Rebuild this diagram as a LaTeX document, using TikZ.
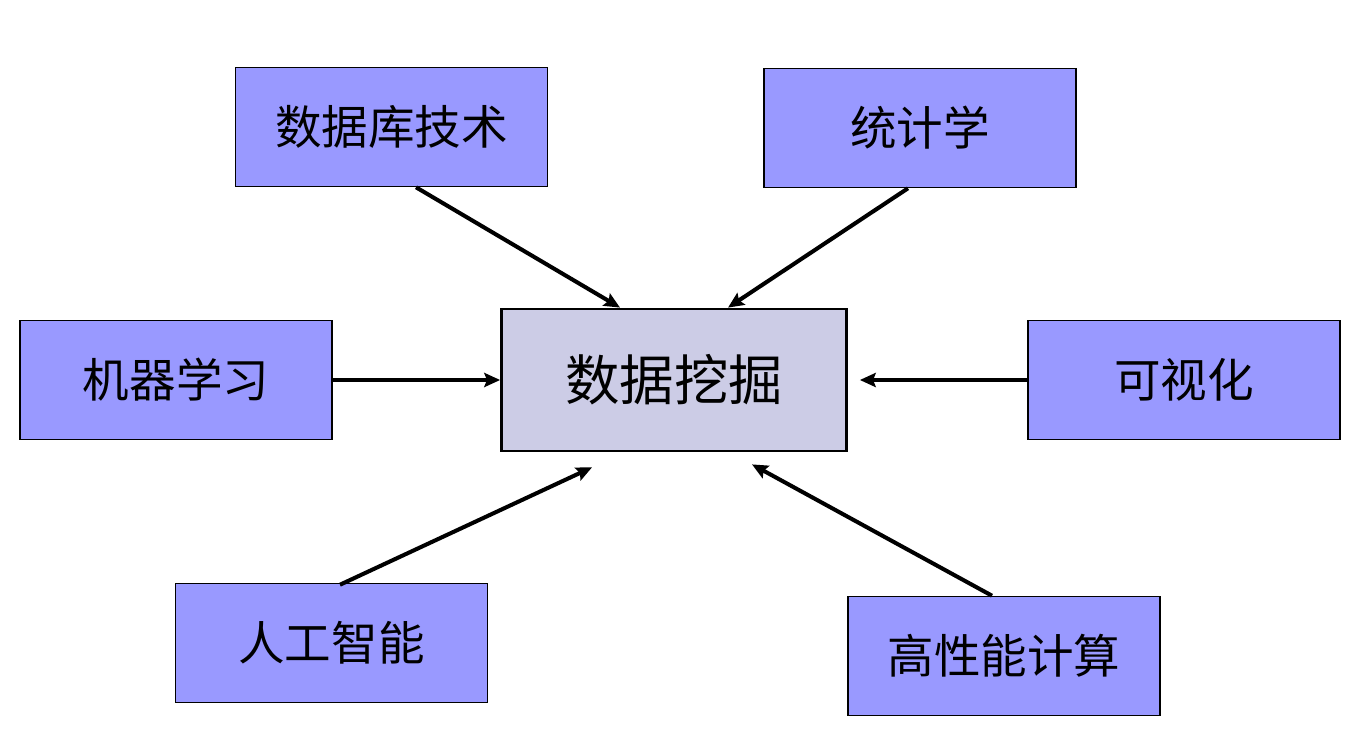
\documentclass[tikz,border=0pt]{standalone}
\usepackage{fontspec}
\usepackage{tikz}
\usetikzlibrary{arrows.meta,calc}
\newfontfamily\cjk{Noto Sans CJK SC}
\definecolor{topicblue}{RGB}{153,153,255}
\definecolor{coregray}{RGB}{204,204,230}

\begin{document}
\begin{tikzpicture}[x=0.02cm, y=-0.02cm]
			\tikzset{field/.style={draw, line width=0.9pt, fill=topicblue, inner sep=0pt, minimum width=6.24cm, minimum height=2.38cm, font=\cjk\fontsize{26.5}{30}\selectfont},
				core/.style={draw, line width=1.6pt, fill=coregray, inner sep=0pt, minimum width=6.9cm, minimum height=2.84cm, font=\cjk\fontsize{31}{34}\selectfont},
				feed/.style={line width=2.3pt, -{Stealth[length=9pt, width=8pt, inset=1.5pt]}}}
			\useasboundingbox (0,0) rectangle (1358,743);
			
			\node[core] (dm) at (674,380) {数据挖掘};
			\node[field] (db) at (391.5,127) {数据库技术};
			\node[field] (stat) at (920,128) {统计学};
			\node[field] (ml) at (176,380) {机器学习};
			\node[field] (vis) at (1184,380) {可视化};
			\node[field] (ai) at (331.5,643) {人工智能};
			\node[field] (hpc) at (1004,656) {高性能计算};
			
			\coordinate (in_vis) at ($(dm.east)+(12,0)$);
			\coordinate (in_ai) at ($(dm.south)+(-82,15)$);
			\coordinate (in_hpc) at ($(dm.south)+(78,12)$);
			
			\draw[feed] ($(db.south)+(24.5,0)$) -- ($(dm.north)+(-54,0)$);
			\draw[feed] ($(stat.south)+(-12,0)$) -- ($(dm.north)+(54,0)$);
			\draw[feed] (ml.east) -- (dm.west);
			\draw[feed] (vis.west) -- (in_vis);
			\draw[feed] ($(ai.north)+(8.5,2)$) -- (in_ai);
			\draw[feed] ($(hpc.north)+(-12,0)$) -- (in_hpc);
			
		\end{tikzpicture}
\end{document}
